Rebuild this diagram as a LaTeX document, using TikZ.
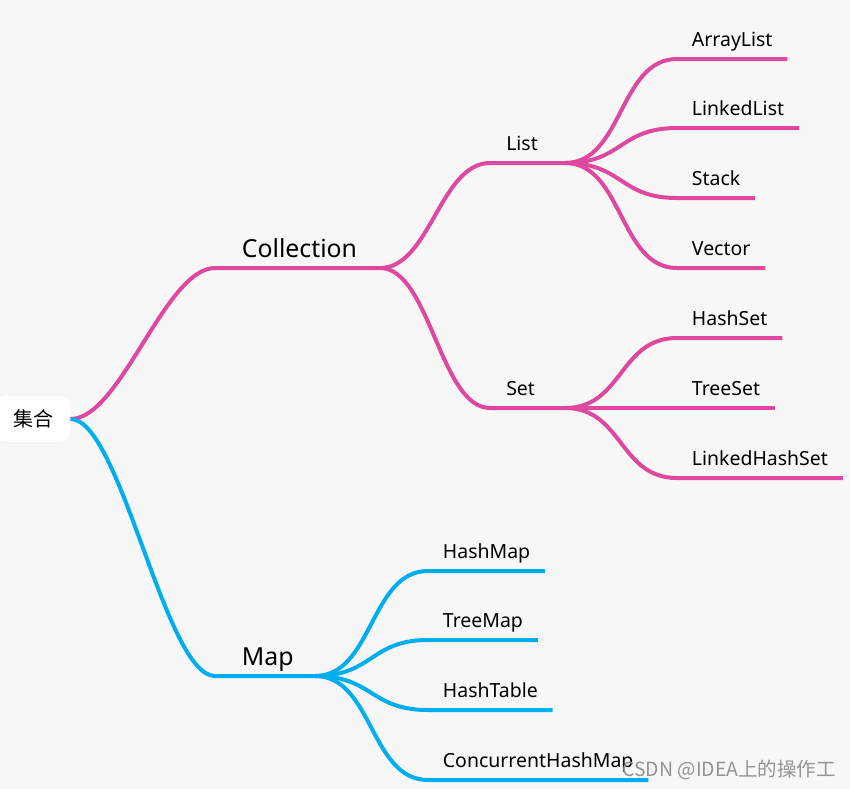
\documentclass[tikz,border=0pt]{standalone}
\usepackage{fontspec}
\setmainfont{Noto Sans}
\newfontfamily\cjk{Noto Sans CJK SC}
\usetikzlibrary{positioning,shadows}
\definecolor{bgcol}{RGB}{247,247,247}
\definecolor{pinkcol}{RGB}{222,72,158}
\definecolor{bluecol}{RGB}{0,174,239}
\tikzset{
  pinkline/.style={draw=pinkcol,line width=3pt},
  blueline/.style={draw=bluecol,line width=3pt},
  leaf/.style={anchor=south west,font=\fontsize{14.6}{16}\selectfont,inner xsep=11pt,inner ysep=9pt,text depth=0pt},
  sub/.style={anchor=south west,font=\fontsize{14.6}{16}\selectfont,inner xsep=12pt,inner ysep=9pt,text depth=0pt},
  branch/.style={anchor=south west,font=\fontsize{18.6}{20}\selectfont,inner xsep=20pt,inner ysep=7.5pt,text depth=0pt},
  rootbox/.style={fill=white,rounded corners=7.5pt,minimum width=56pt,minimum height=34.5pt,font=\cjk\fontsize{15}{17}\selectfont,
    drop shadow={opacity=0.06,shadow xshift=0pt,shadow yshift=-1pt}}
}
\begin{document}
\begin{tikzpicture}[x=0.75pt,y=0.75pt,yscale=-1,xscale=1]
%background
\fill[bgcol] (0,0) rectangle (850,789);
\useasboundingbox (0,0) rectangle (850,789);

%Root
\node[rootbox] (root) at (33,419) {集合};

%Branch nodes
\node[branch] (coll) at (215,268) {Collection};
\node[branch] (map) at (215,676) {Map};
\node[sub] (list) at (490,163) {List};
\node[sub] (set) at (490,408) {Set};
\coordinate (coll-j) at (380,268);
\coordinate (map-j) at (315,676);
\coordinate (list-j) at (565,163);
\coordinate (set-j) at (565,408);

%Leaves of List
\node[leaf] (arr) at (677,59) {ArrayList};
\node[leaf] (lnk) at (677,128) {LinkedList};
\node[leaf] (stk) at (677,198) {Stack};
\node[leaf] (vec) at (677,268) {Vector};
%Leaves of Set
\node[leaf] (hset) at (677,338) {HashSet};
\node[leaf] (tset) at (677,408) {TreeSet};
\node[leaf] (lhset) at (677,478) {LinkedHashSet};
%Leaves of Map
\node[leaf] (hmap) at (428,571) {HashMap};
\node[leaf] (tmap) at (428,640) {TreeMap};
\node[leaf] (htab) at (428,710) {HashTable};
\node[leaf] (chmap) at (428,780) {ConcurrentHashMap};

%Pink connectors
\draw[pinkline] (root.east) .. controls +(50,0) and +(-50,0) .. (coll.south west) -- (coll-j);
\draw[pinkline] (coll-j) .. controls +(50,0) and +(-50,0) .. (list.south west) -- (list-j);
\draw[pinkline] (coll-j) .. controls +(50,0) and +(-50,0) .. (set.south west) -- (set-j);
\foreach \n in {arr,lnk,stk,vec}
  \draw[pinkline] (list-j) .. controls +(58,0) and +(-58,0) .. (\n.south west) -- (\n.south east);
\foreach \n in {hset,tset,lhset}
  \draw[pinkline] (set-j) .. controls +(58,0) and +(-58,0) .. (\n.south west) -- (\n.south east);

%Blue connectors
\draw[blueline] (root.east) .. controls +(50,0) and +(-50,0) .. (map.south west) -- (map-j);
\foreach \n in {hmap,tmap,htab,chmap}
  \draw[blueline] (map-j) .. controls +(58,0) and +(-58,0) .. (\n.south west) -- (\n.south east);

%Watermark
\node[anchor=east,text=black!42,font=\cjk\fontsize{14.6}{16}\selectfont,inner sep=0pt] (watermark) at (836,770) {CSDN @IDEA上的操作工};
\end{tikzpicture}
\end{document}
